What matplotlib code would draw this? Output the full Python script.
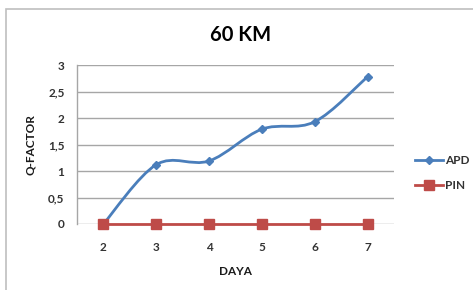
import matplotlib

matplotlib.use("Agg")
import matplotlib.pyplot as plt
from matplotlib.patches import PathPatch, Rectangle
from matplotlib.path import Path

# data
daya = [2, 3, 4, 5, 6, 7]
apd = [0.0, 1.12, 1.19, 1.79, 1.93, 2.78]
pin = [0.0, 0.0, 0.0, 0.0, 0.0, 0.0]
y_ticks = [0, 0.5, 1, 1.5, 2, 2.5, 3]
y_tick_labels = ["0", "0,5", "1", "1,5", "2", "2,5", "3"]

_BLUE = "#4a7ebb"
_RED = "#be4b48"
_GRID = "#a6a6a6"
_TEXT = "#333333"
_FONT = "Lato"
_FS = 8.5

plt.rcParams["font.family"] = [_FONT, "DejaVu Sans"]


def smooth_path(xs, ys, t=1 / 6):
    """Excel-style smoothed line as cubic Bezier segments through the points."""
    verts = [(xs[0], ys[0])]
    codes = [Path.MOVETO]
    n = len(xs)
    for i in range(n - 1):
        x0, y0 = (xs[i - 1], ys[i - 1]) if i > 0 else (xs[i], ys[i])
        x1, y1 = xs[i], ys[i]
        x2, y2 = xs[i + 1], ys[i + 1]
        x3, y3 = (xs[i + 2], ys[i + 2]) if i + 2 < n else (x2, y2)
        c1 = (x1 + (x2 - x0) * t, y1 + (y2 - y0) * t)
        c2 = (x2 - (x3 - x1) * t, y2 - (y3 - y1) * t)
        verts += [c1, c2, (x2, y2)]
        codes += [Path.CURVE4] * 3
    return Path(verts, codes)


fig = plt.figure(figsize=(4.73, 2.90), dpi=100)
fig.patch.set_facecolor("white")

# outer chart border
fig.patches.append(Rectangle((6 / 473, -0.05), 1.1, 1 - 9 / 290 + 0.05,
                             transform=fig.transFigure, fill=False,
                             edgecolor="#bfbfbf", linewidth=1.2))

ax = fig.add_axes([0.1628, 0.2276, 0.670, 0.548])
pos = list(range(len(daya)))

ax.set_xlim(-0.5, len(daya) - 0.5)
ax.set_ylim(0, 3)
ax.set_yticks(y_ticks)
ax.set_yticklabels(y_tick_labels)
ax.set_xticks(pos)
ax.set_xticklabels([str(d) for d in daya])
ax.tick_params(length=0, labelsize=_FS, colors=_TEXT, pad=9)
ax.tick_params(axis="x", pad=13)
for lbl in ax.get_xticklabels() + ax.get_yticklabels():
    lbl.set_fontweight("bold")
ax.yaxis.grid(True, color=_GRID, linewidth=1)
ax.set_axisbelow(True)
for side in ("top", "right", "bottom"):
    ax.spines[side].set_visible(False)
ax.spines["left"].set_color(_GRID)
ax.spines["left"].set_linewidth(1)

ax.add_patch(PathPatch(smooth_path(pos, apd), fill=False, edgecolor=_BLUE,
                       linewidth=2, zorder=3, clip_on=False))
ax.plot(pos, apd, linestyle="none", marker="D", markersize=4.5,
        color=_BLUE, zorder=4, clip_on=False)
ax.plot(pos, pin, color=_RED, linewidth=2, marker="s", markersize=7,
        zorder=5, clip_on=False)

ax.set_ylabel("Q-FACTOR", fontsize=_FS, fontweight="bold", color="#1a1a1a",
              labelpad=9)
ax.set_xlabel("DAYA", fontsize=_FS, fontweight="bold", color="#1a1a1a",
              labelpad=9)
fig.text(241 / 473, 1 - 35 / 290, "60 KM", ha="center", va="center",
         fontsize=14.5, fontweight="bold")

# legend drawn at the right, like the spreadsheet one
handles = [
    plt.Line2D([], [], color=_BLUE, linewidth=2, marker="D", markersize=4.5),
    plt.Line2D([], [], color=_RED, linewidth=2, marker="s", markersize=7),
]
leg = fig.legend(handles, ["APD", "PIN"], loc="center left",
                 bbox_to_anchor=(404 / 473, 1 - 173 / 290), frameon=False,
                 handlelength=2.4, handletextpad=0.2, labelspacing=1.15,
                 prop={"weight": "bold", "size": _FS})
for t in leg.get_texts():
    t.set_color(_TEXT)

fig.savefig("out.png", dpi=100, facecolor="white")
